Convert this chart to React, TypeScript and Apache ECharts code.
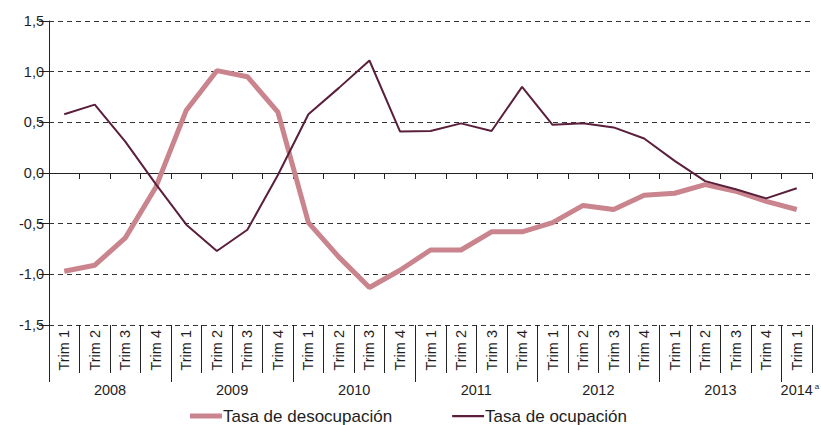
import React, { useEffect, useRef } from "react";
import * as echarts from "echarts";

const periods = [
  "2008-T1", "2008-T2", "2008-T3", "2008-T4",
  "2009-T1", "2009-T2", "2009-T3", "2009-T4",
  "2010-T1", "2010-T2", "2010-T3", "2010-T4",
  "2011-T1", "2011-T2", "2011-T3", "2011-T4",
  "2012-T1", "2012-T2", "2012-T3", "2012-T4",
  "2013-T1", "2013-T2", "2013-T3", "2013-T4",
  "2014-T1",
];
const quarterLabels = [
  "Trim 1", "Trim 2", "Trim 3", "Trim 4",
  "Trim 1", "Trim 2", "Trim 3", "Trim 4",
  "Trim 1", "Trim 2", "Trim 3", "Trim 4",
  "Trim 1", "Trim 2", "Trim 3", "Trim 4",
  "Trim 1", "Trim 2", "Trim 3", "Trim 4",
  "Trim 1", "Trim 2", "Trim 3", "Trim 4",
  "Trim 1",
];
const years = ["2008", "2009", "2010", "2011", "2012", "2013", "2014"];
const quartersPerYear = [4, 4, 4, 4, 4, 4, 1];
const yearNote = "a";

const desocupacion = [
  -0.97, -0.91, -0.64, -0.14,
  0.62, 1.01, 0.95, 0.6,
  -0.49, -0.83, -1.13, -0.96,
  -0.76, -0.76, -0.58, -0.58,
  -0.49, -0.32, -0.36, -0.22,
  -0.2, -0.115, -0.18, -0.28,
  -0.36,
];
const ocupacion = [
  0.58, 0.675, 0.31, -0.11,
  -0.51, -0.77, -0.56, -0.02,
  0.58, 0.84, 1.11, 0.41,
  0.415, 0.49, 0.415, 0.85,
  0.475, 0.49, 0.45, 0.34,
  0.12, -0.08, -0.16, -0.25,
  -0.15,
];

const seriesNames = ["Tasa de desocupación", "Tasa de ocupación"];
const yMin = -1.5;
const yMax = 1.5;
const yStep = 0.5;

const FONT = "Liberation Sans, Arial, sans-serif";
const TEXT = "#1e1e1e";
const PINK = "#C9848D";
const MAROON = "#5A1F3B";

export default function App() {
  const ref = useRef<HTMLDivElement>(null);

  useEffect(() => {
    if (!ref.current) return;
    const chart = echarts.init(ref.current, undefined, { renderer: "svg" });
    const option: any = {
      animation: false,
      textStyle: { fontFamily: FONT, color: TEXT },
      grid: { left: 49, right: 9, top: 21, bottom: 100, containLabel: false },
      legend: {
        data: [
          {
            name: seriesNames[0],
            icon: "path://M0,0h0.01v0.01h-0.01z M0,0h32v5h-32z M0,5h0.01v0.01h-0.01z",
            itemStyle: { color: PINK },
          },
          {
            name: seriesNames[1],
            icon: "path://M0,0h0.01v0.01h-0.01z M0,1.4h32v2.4h-32z M0,5h0.01v0.01h-0.01z",
            itemStyle: { color: MAROON },
          },
        ],
        left: 190,
        top: 407,
        itemWidth: 32,
        itemHeight: 5,
        itemGap: 60,
        padding: 0,
        textStyle: {
          fontFamily: FONT,
          fontSize: 17,
          lineHeight: 18,
          color: TEXT,
          padding: [0, 0, 0, -4],
        },
      },
      xAxis: [
        {
          type: "category",
          data: periods,
          position: "bottom",
          boundaryGap: true,
          axisLine: { show: true, onZero: true, lineStyle: { color: "#222", width: 1 } },
          axisTick: { show: true, length: 6, interval: 0, lineStyle: { color: "#222" } },
          axisLabel: { show: false },
          splitLine: { show: false },
        },
        {
          type: "category",
          data: periods,
          position: "bottom",
          boundaryGap: true,
          axisLine: { show: false, onZero: false },
          axisTick: { show: true, length: 48, interval: 0, lineStyle: { color: "#222" } },
          axisLabel: {
            show: true,
            interval: 0,
            rotate: 90,
            margin: 5,
            fontFamily: FONT,
            fontSize: 14.5,
            color: TEXT,
            formatter: (_v: string, i: number) => quarterLabels[i],
          },
          splitLine: { show: false },
        },
      ],
      yAxis: {
        type: "value",
        min: yMin,
        max: yMax,
        interval: yStep,
        axisLine: { show: true, lineStyle: { color: "#222", width: 1 } },
        axisTick: { show: true, length: 10, lineStyle: { color: "#222" } },
        axisLabel: {
          margin: 5,
          fontFamily: FONT,
          fontSize: 14.5,
          color: TEXT,
          padding: [0, 0, 6, 0],
          formatter: (v: number) => v.toFixed(1).replace(".", ","),
        },
        splitLine: {
          show: true,
          lineStyle: { color: "#333", width: 1, type: [5, 4] },
        },
      },
      series: [
        {
          name: seriesNames[0],
          type: "line",
          xAxisIndex: 0,
          data: desocupacion,
          symbol: "none",
          lineStyle: { color: PINK, width: 5 },
          itemStyle: { color: PINK },
          z: 2,
        },
        {
          name: seriesNames[1],
          type: "line",
          xAxisIndex: 0,
          data: ocupacion,
          symbol: "none",
          lineStyle: { color: MAROON, width: 2 },
          itemStyle: { color: MAROON },
          z: 3,
        },
      ],
    };
    chart.setOption(option);

    const c0 = chart.convertToPixel({ xAxisIndex: 1 }, 0) as number;
    const c1 = chart.convertToPixel({ xAxisIndex: 1 }, 1) as number;
    const band = c1 - c0;
    const boundary = (i: number) => c0 - band / 2 + i * band;
    const yB = chart.convertToPixel({ yAxisIndex: 0 }, yMin) as number;

    const elements: any[] = [];
    let start = 0;
    years.forEach((yr, k) => {
      const n = quartersPerYear[k];
      const bx = Math.round(boundary(start)) + 0.5;
      elements.push({
        type: "line",
        shape: { x1: bx, y1: yB, x2: bx, y2: yB + 57 },
        style: { stroke: "#222", lineWidth: 1 },
        silent: true,
      });
      const cx = boundary(start + n / 2);
      elements.push({
        type: "text",
        x: cx,
        y: yB + 65,
        style: {
          text: yr,
          fontFamily: FONT,
          fontSize: 14.5,
          fill: TEXT,
          textAlign: "center",
          textVerticalAlign: "middle",
        },
        silent: true,
      });
      if (k === years.length - 1) {
        elements.push({
          type: "text",
          x: cx + 18,
          y: yB + 61,
          style: {
            text: yearNote,
            fontFamily: FONT,
            fontSize: 8,
            fill: TEXT,
            textAlign: "left",
            textVerticalAlign: "middle",
          },
          silent: true,
        });
      }
      start += n;
    });
    chart.setOption({ graphic: { elements } });

    return () => chart.dispose();
  }, []);

  return (
    <div
      ref={ref}
      style={{ position: "fixed", left: 0, top: 0, width: 821, height: 425, background: "#fff" }}
    />
  );
}
